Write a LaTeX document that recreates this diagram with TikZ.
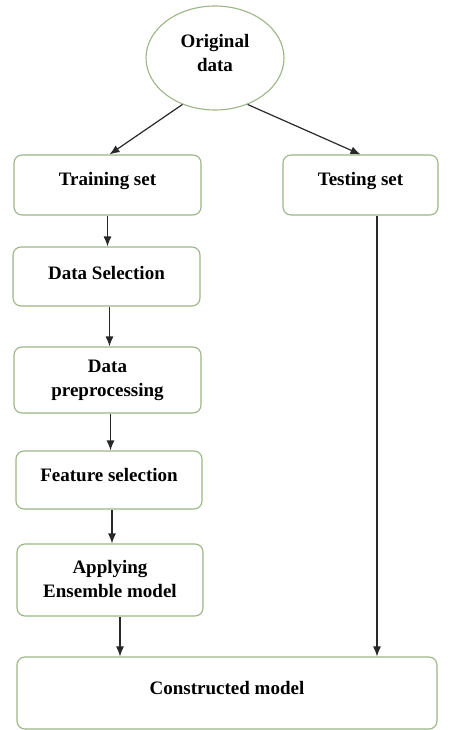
\documentclass[tikz,border=0pt]{standalone}
\usepackage{fontspec}
\setmainfont{Liberation Serif}
\usetikzlibrary{shapes.geometric,arrows.meta}
\definecolor{edgegreen}{RGB}{156,182,134}
\definecolor{linkgray}{RGB}{40,40,40}
\tikzset{
  stepbox/.style={draw=edgegreen, line width=1.1pt, rounded corners=8pt, fill=white, inner sep=0pt},
  blob/.style={draw=edgegreen, line width=1.1pt, ellipse, fill=white, inner sep=0pt},
  txt/.style={font=\fontsize{19}{24}\selectfont\bfseries, align=center, text=black, inner sep=0pt},
  link/.style={draw=linkgray, line width=1.2pt, -{Latex[length=10pt,width=8pt]}}
}
\begin{document}
\begin{tikzpicture}[x=1pt,y=-1pt]
\useasboundingbox (0,0) rectangle (458,730);

% start node
\node[blob, minimum width=138pt, minimum height=104pt,
      label={[txt, yshift=5pt]center:Original\\data}] (orig) at (215,58) {};

% top row
\node[stepbox, minimum width=187pt, minimum height=60pt,
      label={[txt, yshift=4pt]center:Training set}] (train) at (107.5,185) {};
\node[stepbox, minimum width=155pt, minimum height=60pt,
      label={[txt, yshift=4pt]center:Testing set}] (test) at (360.5,185) {};

% training pipeline
\node[stepbox, minimum width=187pt, minimum height=59pt,
      label={[txt, yshift=4pt]center:Data Selection}] (sel) at (106.5,276.5) {};
\node[stepbox, minimum width=187pt, minimum height=66pt,
      label={[txt, yshift=0pt]center:Data\\preprocessing}] (prep) at (107.5,380) {};
\node[stepbox, minimum width=186pt, minimum height=58pt,
      label={[txt, yshift=5pt]center:Feature selection}] (feat) at (109,480) {};
\node[stepbox, minimum width=186pt, minimum height=72pt,
      label={[txt, yshift=1.5pt]center:Applying\\Ensemble model}] (app) at (110,580) {};

% result
\node[stepbox, minimum width=420pt, minimum height=72pt,
      label={[txt, yshift=5pt]center:Constructed model}] (cons) at (227,693) {};

% connectors
\draw[link] (orig.235) -- ([xshift=2pt]train.north);
\draw[link] (orig.305) -- (test.north);
\draw[link] (train.south) -- (train.south |- sel.north);
\draw[link] ([xshift=3pt]sel.south) -- ([xshift=3pt]sel.south |- prep.north);
\draw[link] ([xshift=3pt]prep.south) -- ([xshift=3pt]prep.south |- feat.north);
\draw[link] ([xshift=3pt]feat.south) -- ([xshift=3pt]feat.south |- app.north);
\draw[link] ([xshift=10pt]app.south) -- ([xshift=10pt]app.south |- cons.north);
\draw[link] ([xshift=16.5pt]test.south) -- ([xshift=16.5pt]test.south |- cons.north);
\end{tikzpicture}
\end{document}
